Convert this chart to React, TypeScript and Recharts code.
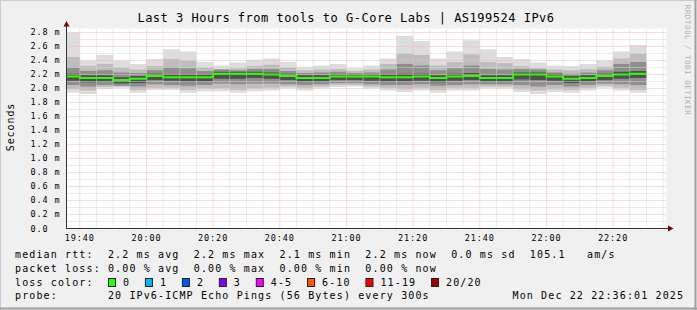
import React from 'react';
import { ComposedChart, Area, Line, XAxis, YAxis, CartesianGrid, ReferenceLine } from 'recharts';

// 5 minute bins (start time of each bin), last bin ends at 22:30
const binStart = [
  '19:35', '19:40', '19:45', '19:50', '19:55', '20:00', '20:05', '20:10', '20:15', '20:20',
  '20:25', '20:30', '20:35', '20:40', '20:45', '20:50', '20:55', '21:00', '21:05', '21:10',
  '21:15', '21:20', '21:25', '21:30', '21:35', '21:40', '21:45', '21:50', '21:55', '22:00',
  '22:05', '22:10', '22:15', '22:20', '22:25',
];
const lastBinEnd = '22:30';

// rtt in ms, smoke bands from outside (min/max) to the core around the median
const rttMax = [
  2.80, 2.40, 2.48, 2.40, 2.35, 2.42, 2.56, 2.53, 2.38, 2.33,
  2.37, 2.41, 2.43, 2.38, 2.31, 2.33, 2.35, 2.29, 2.33, 2.43,
  2.75, 2.68, 2.43, 2.53, 2.69, 2.56, 2.45, 2.42, 2.37, 2.33,
  2.32, 2.35, 2.40, 2.53, 2.62,
];
const rttHi2 = [
  2.45, 2.32, 2.35, 2.30, 2.27, 2.32, 2.42, 2.40, 2.30, 2.28,
  2.29, 2.32, 2.34, 2.30, 2.26, 2.27, 2.28, 2.25, 2.27, 2.35,
  2.50, 2.48, 2.33, 2.38, 2.49, 2.38, 2.36, 2.32, 2.29, 2.27,
  2.26, 2.28, 2.31, 2.43, 2.50,
];
const rttHi3 = [
  2.30, 2.25, 2.26, 2.23, 2.22, 2.26, 2.30, 2.29, 2.25, 2.27,
  2.26, 2.28, 2.28, 2.25, 2.22, 2.23, 2.24, 2.22, 2.23, 2.27,
  2.35, 2.33, 2.26, 2.29, 2.33, 2.28, 2.27, 2.28, 2.27, 2.23,
  2.21, 2.23, 2.26, 2.35, 2.38,
];
const rttHi4 = [
  2.21, 2.19, 2.19, 2.16, 2.18, 2.21, 2.20, 2.20, 2.20, 2.24,
  2.24, 2.24, 2.23, 2.21, 2.19, 2.19, 2.20, 2.20, 2.20, 2.20,
  2.21, 2.21, 2.19, 2.21, 2.22, 2.19, 2.19, 2.23, 2.23, 2.21,
  2.18, 2.19, 2.21, 2.24, 2.25,
];
const rttMedian = [
  2.17, 2.15, 2.15, 2.12, 2.14, 2.18, 2.16, 2.16, 2.16, 2.21,
  2.21, 2.21, 2.20, 2.18, 2.15, 2.15, 2.17, 2.17, 2.17, 2.16,
  2.16, 2.17, 2.15, 2.17, 2.18, 2.15, 2.15, 2.20, 2.20, 2.17,
  2.14, 2.15, 2.18, 2.20, 2.21,
];
const rttLo4 = [
  2.11, 2.09, 2.10, 2.07, 2.08, 2.12, 2.11, 2.10, 2.10, 2.14,
  2.14, 2.15, 2.14, 2.12, 2.10, 2.10, 2.12, 2.12, 2.11, 2.10,
  2.10, 2.11, 2.09, 2.11, 2.12, 2.10, 2.10, 2.13, 2.12, 2.11,
  2.08, 2.10, 2.12, 2.14, 2.15,
];
const rttLo3 = [
  2.05, 2.03, 2.05, 2.04, 2.03, 2.06, 2.05, 2.04, 2.05, 2.07,
  2.06, 2.07, 2.07, 2.06, 2.05, 2.06, 2.08, 2.08, 2.06, 2.05,
  2.05, 2.06, 2.04, 2.05, 2.06, 2.06, 2.06, 2.05, 2.03, 2.05,
  2.03, 2.05, 2.07, 2.06, 2.05,
];
const rttLo2 = [
  1.99, 1.97, 2.02, 2.03, 1.98, 2.01, 2.01, 1.98, 2.00, 2.00,
  1.98, 2.00, 2.01, 2.03, 2.01, 2.03, 2.05, 2.05, 2.03, 2.01,
  1.99, 2.01, 1.98, 2.01, 2.01, 2.03, 2.03, 1.99, 1.97, 1.99,
  1.98, 2.01, 2.04, 2.01, 1.98,
];
const rttMin = [
  1.94, 1.92, 1.99, 2.01, 1.94, 1.98, 1.98, 1.94, 1.96, 1.96,
  1.94, 1.96, 1.97, 2.00, 1.97, 2.00, 2.02, 2.03, 2.00, 1.97,
  1.95, 1.97, 1.94, 1.97, 1.97, 2.00, 2.00, 1.95, 1.92, 1.95,
  1.94, 1.97, 2.01, 1.97, 1.94,
];

const timeTicks = ['19:40', '20:00', '20:20', '20:40', '21:00', '21:20', '21:40', '22:00', '22:20'];
const yTicks = [0, 0.2, 0.4, 0.6, 0.8, 1.0, 1.2, 1.4, 1.6, 1.8, 2.0, 2.2, 2.4, 2.6, 2.8];

const lossLabels = ['0', '1', '2', '3', '4-5', '6-10', '11-19', '20/20'];
const lossColors = ['#26ff00', '#00b8ff', '#0059ff', '#7e00ff', '#ff00ff', '#ff5500', '#ff0000', '#a10000'];

const toMin = (s: string) => {
  const [h, m] = s.split(':').map(Number);
  return h * 60 + m;
};

const graphEnd = toMin('22:36') + 1 / 60;
const graphStart = graphEnd - 180;

const rows = binStart.map((t, i) => ({
  t: Math.max(toMin(t), graphStart),
  s1: [rttMin[i], rttMax[i]],
  s2: [rttLo2[i], rttHi2[i]],
  s3: [rttLo3[i], rttHi3[i]],
  s4: [rttLo4[i], rttHi4[i]],
  median: rttMedian[i],
}));
rows.push({ ...rows[rows.length - 1], t: toMin(lastBinEnd) });

const mono = '"DejaVu Sans Mono", monospace';

// grid positions
const minorX: number[] = [];
for (let m = toMin('19:45'); m <= toMin('22:35'); m += 5) {
  if (!timeTicks.map(toMin).includes(m)) minorX.push(m);
}
const minorY: number[] = [];
for (let k = 1; k <= 27; k += 2) minorY.push(k / 10);

const fmtTime = (v: number) => {
  const h = Math.floor(v / 60);
  const m = Math.round(v - h * 60);
  return `${h}:${String(m).padStart(2, '0')}`;
};

const XTick = (props: any) => (
  <text x={props.x} y={240.5} textAnchor="middle" fontFamily={mono} fontSize={8.5} letterSpacing={0.9} fill="#000">
    {fmtTime(props.payload.value)}
  </text>
);

const YTick = (props: any) => {
  const v = props.payload.value;
  const label = v === 0 ? '0.0' : `${v.toFixed(1)} m`;
  return (
    <text x={30.5} y={props.y} dy={3} textAnchor="start" fontFamily={mono} fontSize={8.5} letterSpacing={0.9} fill="#000">
      {label}
    </text>
  );
};

const smoke = [
  { key: 's1', color: '#dddddd' },
  { key: 's2', color: '#bdbdbd' },
  { key: 's3', color: '#8e8e8e' },
  { key: 's4', color: '#505050' },
];

const gridMinor = '#d6d6d6';
const gridMajor = '#f6b8b8';

function Legend() {
  const rowStyle = { whiteSpace: 'pre' as const };
  const lx = 15;
  let bx = 108;
  const items = lossLabels.map((lab, i) => {
    const it = { x: bx, lab, color: lossColors[i] };
    bx = bx + 15 + lab.length * 7.15 + 14.8;
    return it;
  });
  return (
    <g fontFamily={mono} fontSize={10} letterSpacing={1.13} fill="#000">
      <text x={lx} y={258} style={rowStyle} xmlSpace="preserve">
        {'median rtt:  2.2 ms avg  2.2 ms max  2.1 ms min  2.2 ms now  0.0 ms sd  105.1   am/s'}
      </text>
      <text x={lx} y={272} style={rowStyle} xmlSpace="preserve">
        {'packet loss: 0.00 % avg  0.00 % max  0.00 % min  0.00 % now'}
      </text>
      <text x={lx} y={285.5} style={rowStyle} xmlSpace="preserve">
        {'loss color:'}
      </text>
      {items.map((it) => (
        <g key={it.lab}>
          <rect x={it.x + 0.5} y={278.5} width={7} height={8} fill={it.color} stroke="#222" strokeWidth={1} />
          <text x={it.x + 15} y={285.5}>{it.lab}</text>
        </g>
      ))}
      <text x={lx} y={299} style={rowStyle} xmlSpace="preserve">
        {'probe:       20 IPv6-ICMP Echo Pings (56 Bytes) every 300s'}
      </text>
      <text x={512.5} y={299} style={rowStyle} xmlSpace="preserve">
        {'Mon Dec 22 22:36:01 2025'}
      </text>
    </g>
  );
}

export default function App() {
  return (
    <div style={{ position: 'absolute', left: 0, top: 0, width: 697, height: 310, background: '#f0f0f0' }}>
      <div style={{ position: 'absolute', left: 0, top: 0 }}>
        <ComposedChart
          width={697}
          height={310}
          data={rows}
          margin={{ top: 28.5, right: 30.5, bottom: 61.5, left: 0 }}
        >
          <CartesianGrid horizontal={false} vertical={false} fill="#ffffff" fillOpacity={1} />
          <XAxis
            type="number"
            dataKey="t"
            domain={[graphStart, graphEnd]}
            ticks={timeTicks.map(toMin)}
            interval={0}
            allowDataOverflow
            axisLine={false}
            tickLine={false}
            height={20}
            tick={<XTick />}
          />
          <YAxis
            type="number"
            domain={[0, 2.857]}
            ticks={yTicks}
            interval={0}
            allowDataOverflow
            axisLine={false}
            tickLine={false}
            width={66.5}
            tick={<YTick />}
          />
          {smoke.map((s) => (
            <Area
              key={s.key}
              type="stepAfter"
              dataKey={s.key}
              stroke="none"
              fill={s.color}
              fillOpacity={1}
              dot={false}
              activeDot={false}
              isAnimationActive={false}
            />
          ))}
          {minorY.map((v) => (
            <ReferenceLine key={`my${v}`} y={v} stroke={gridMinor} strokeDasharray="1 1" />
          ))}
          {minorX.map((v) => (
            <ReferenceLine key={`mx${v}`} x={v} stroke={gridMinor} strokeDasharray="1 1" />
          ))}
          {yTicks.filter((v) => v > 0).map((v) => (
            <ReferenceLine key={`My${v}`} y={v} stroke={gridMajor} strokeDasharray="1 1" />
          ))}
          {timeTicks.map((t) => (
            <ReferenceLine key={`Mx${t}`} x={toMin(t)} stroke={gridMajor} strokeDasharray="1 1" />
          ))}
          <Line
            type="stepAfter"
            dataKey="median"
            stroke="#26ff00"
            strokeWidth={2}
            dot={false}
            activeDot={false}
            isAnimationActive={false}
          />
        </ComposedChart>
      </div>
      <svg width={697} height={310} style={{ position: 'absolute', left: 0, top: 0, pointerEvents: 'none' }}>
        {/* frame */}
        <line x1={0} y1={0.5} x2={697} y2={0.5} stroke="#cbcbcb" />
        <line x1={0.5} y1={0} x2={0.5} y2={310} stroke="#cbcbcb" />
        <line x1={0} y1={308.5} x2={697} y2={308.5} stroke="#a0a0a0" strokeWidth={2} />
        <line x1={695.5} y1={0} x2={695.5} y2={310} stroke="#a0a0a0" strokeWidth={2} />
        {/* axes with arrows */}
        <line x1={66.5} y1={228.5} x2={66.5} y2={24} stroke="#333" />
        <polygon points="63.5,26.5 69.5,26.5 66.5,21" fill="#7f0000" />
        <line x1={66} y1={228.5} x2={669} y2={228.5} stroke="#333" />
        <polygon points="668,225.5 668,231.5 673.5,228.5" fill="#7f0000" />
        <text x={346} y={22} textAnchor="middle" fontFamily={mono} fontSize={12} letterSpacing={0.5} fill="#000">
          Last 3 Hours from tools to G-Core Labs | AS199524 IPv6
        </text>
        <text
          x={10.5}
          y={127}
          transform="rotate(-90 10.5 127)"
          textAnchor="middle"
          dominantBaseline="central"
          fontFamily={mono}
          fontSize={10}
          letterSpacing={0.9}
          fill="#000"
        >
          Seconds
        </text>
        <text
          x={687}
          y={60}
          transform="rotate(90 687 60)"
          textAnchor="middle"
          dominantBaseline="central"
          fontFamily={mono}
          fontSize={7.5}
          letterSpacing={0.5}
          fill="#b0b0b0"
        >
          RRDTOOL / TOBI OETIKER
        </text>
        <Legend />
      </svg>
    </div>
  );
}
